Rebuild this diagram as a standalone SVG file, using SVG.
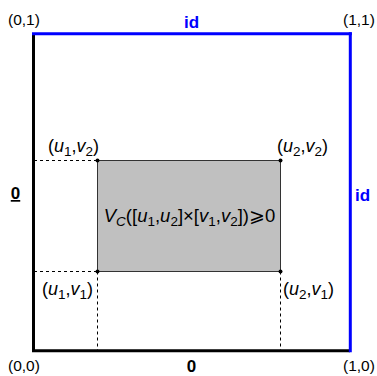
<svg xmlns="http://www.w3.org/2000/svg" width="377" height="376" viewBox="0 0 377 376">
<style>
.t{font-family:"Liberation Sans",Arial,sans-serif;font-size:15.5px;fill:#000}
.m{font-family:"Liberation Sans",Arial,sans-serif;font-size:18px;fill:#000}
.c{font-family:"Liberation Sans",Arial,sans-serif;font-size:18.5px;fill:#000}
.i{font-style:italic}
.s{font-size:13.5px}
.b{font-family:"Liberation Sans",Arial,sans-serif;font-weight:bold;font-size:17px}
.blue{fill:#0000ff}
.dash{stroke:#000;stroke-width:1;stroke-dasharray:3,3;fill:none}
</style>
<rect width="377" height="376" fill="#fff"/>
<g id="connectors">
<line class="dash" x1="34" y1="160.5" x2="97.5" y2="160.5"/>
<line class="dash" x1="34" y1="271.5" x2="97.5" y2="271.5"/>
<line class="dash" x1="97.5" y1="271.5" x2="97.5" y2="350"/>
<line class="dash" x1="280.5" y1="271.5" x2="280.5" y2="350"/>
</g>
<g id="square">
<line x1="33.5" y1="34" x2="33.5" y2="351" stroke="#000" stroke-width="3"/>
<line x1="32" y1="350.8" x2="350" y2="350.8" stroke="#000" stroke-width="3"/>
<line x1="32" y1="33.8" x2="351.8" y2="33.8" stroke="#0000ff" stroke-width="3"/>
<line x1="350.3" y1="32.3" x2="350.3" y2="352.3" stroke="#0000ff" stroke-width="3"/>
</g>
<g id="box">
<rect x="97.5" y="160.5" width="183" height="111" fill="#c0c0c0" stroke="#333" stroke-width="1"/>
<circle cx="97.5" cy="160.5" r="2" fill="#000"/>
<circle cx="280.5" cy="160.5" r="2" fill="#000"/>
<circle cx="97.5" cy="271.5" r="2" fill="#000"/>
<circle cx="280.5" cy="271.5" r="2" fill="#000"/>
<text class="c" x="189.5" y="222" text-anchor="middle"><tspan class="i">V</tspan><tspan class="i s" dy="4">C</tspan><tspan dy="-4">([</tspan><tspan class="i">u</tspan><tspan class="s" dy="4">1</tspan><tspan dy="-4">,</tspan><tspan class="i">u</tspan><tspan class="s" dy="4">2</tspan><tspan dy="-4">]×[</tspan><tspan class="i">v</tspan><tspan class="s" dy="4">1</tspan><tspan dy="-4">,</tspan><tspan class="i">v</tspan><tspan class="s" dy="4">2</tspan><tspan dy="-4">])⩾0</tspan></text>
</g>
<g id="corner-labels">
<text class="m" x="48" y="152"><tspan>(</tspan><tspan class="i">u</tspan><tspan class="s" dy="4">1</tspan><tspan dy="-4">,</tspan><tspan class="i">v</tspan><tspan class="s" dy="4">2</tspan><tspan dy="-4">)</tspan></text>
<text class="m" x="277" y="152"><tspan>(</tspan><tspan class="i">u</tspan><tspan class="s" dy="4">2</tspan><tspan dy="-4">,</tspan><tspan class="i">v</tspan><tspan class="s" dy="4">2</tspan><tspan dy="-4">)</tspan></text>
<text class="m" x="42" y="295"><tspan>(</tspan><tspan class="i">u</tspan><tspan class="s" dy="4">1</tspan><tspan dy="-4">,</tspan><tspan class="i">v</tspan><tspan class="s" dy="4">1</tspan><tspan dy="-4">)</tspan></text>
<text class="m" x="283" y="295"><tspan>(</tspan><tspan class="i">u</tspan><tspan class="s" dy="4">2</tspan><tspan dy="-4">,</tspan><tspan class="i">v</tspan><tspan class="s" dy="4">1</tspan><tspan dy="-4">)</tspan></text>
</g>
<g id="axis-labels">
<text class="t" x="8" y="25">(0,1)</text>
<text class="t" x="343" y="25">(1,1)</text>
<text class="t" x="8" y="371">(0,0)</text>
<text class="t" x="343" y="371">(1,0)</text>
<text class="b blue" x="191.5" y="28" text-anchor="middle" font-size="18">id</text>
<text class="b blue" x="355" y="201" font-size="18">id</text>
<text class="b" x="15.5" y="199" text-anchor="middle" text-decoration="underline">0</text>
<text class="b" x="191.5" y="372" text-anchor="middle">0</text>
</g>
</svg>
